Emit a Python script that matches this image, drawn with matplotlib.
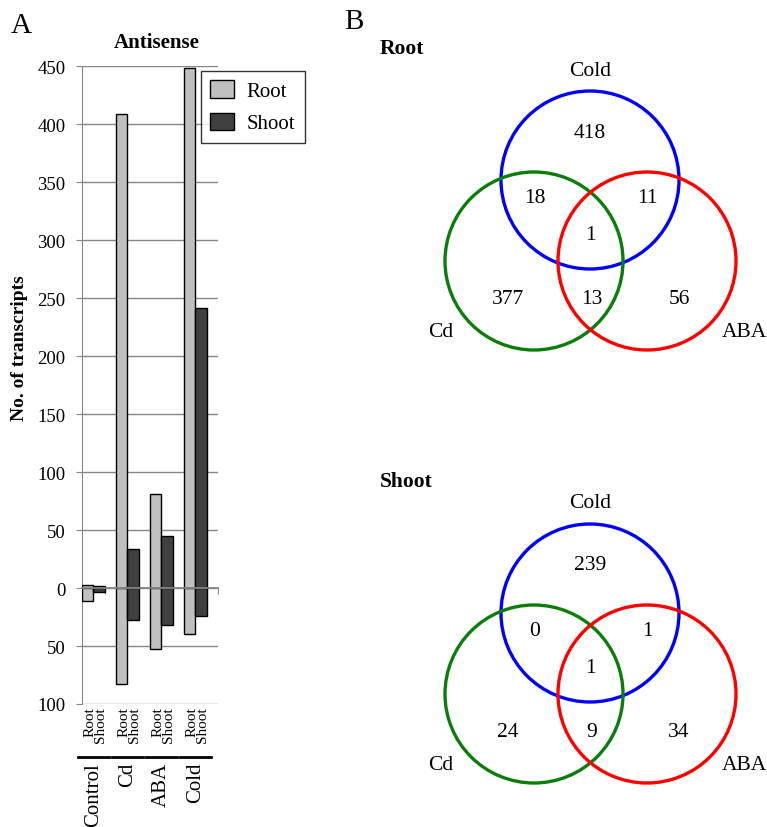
import numpy as np
import matplotlib
matplotlib.use('Agg')
import matplotlib.pyplot as plt
from matplotlib.patches import Circle
from matplotlib.transforms import blended_transform_factory
from matplotlib.ticker import FuncFormatter

plt.rcParams['font.family'] = ['Liberation Serif', 'DejaVu Serif']

# panel A data (antisense transcripts, up = above zero, down = below zero)
groups = ['Control', 'Cd', 'ABA', 'Cold']
tissues = ['Root', 'Shoot']
root_up = [3, 409, 81, 448]
root_down = [11, 83, 53, 40]
shoot_up = [2, 34, 45, 241]
shoot_down = [3.5, 28, 32, 24]
yticks = list(range(-100, 451, 50))

# panel B data (venn counts)
venn_sets = ['Cold', 'Cd', 'ABA']
venn_regions = ['Cold', 'Cold_Cd', 'Cold_ABA', 'all', 'Cd', 'Cd_ABA', 'ABA']
root_counts = [418, 18, 11, 1, 377, 13, 56]
shoot_counts = [239, 0, 1, 1, 24, 9, 34]

W, H = 767, 828
fig = plt.figure(figsize=(W / 100, H / 100), dpi=100)

# ---------------- panel A ----------------
ax = fig.add_axes([82 / W, 1 - 705 / H, (218 - 82) / W, (705 - 67) / H])
grey = '#868686'
root_col = '#c0c0c0'
shoot_col = '#404040'

slots = 3 * len(groups)
xr = np.arange(len(groups)) * 3
xs = xr + 1
ax.bar(xr, root_up, width=1, align='edge', color=root_col, edgecolor='black', lw=1, zorder=3, label='Root')
ax.bar(xr, -np.array(root_down), width=1, align='edge', color=root_col, edgecolor='black', lw=1, zorder=3)
ax.bar(xs, shoot_up, width=1, align='edge', color=shoot_col, edgecolor='black', lw=1, zorder=3, label='Shoot')
ax.bar(xs, -np.array(shoot_down), width=1, align='edge', color=shoot_col, edgecolor='black', lw=1, zorder=3)

ax.set_xlim(0, slots)
ax.set_ylim(-100, 450)
ax.set_yticks(yticks)
ax.yaxis.set_major_formatter(FuncFormatter(lambda v, p: f'{abs(int(v))}'))
ax.yaxis.grid(True, color=grey, lw=1, zorder=0)
ax.tick_params(axis='y', length=4, color=grey, pad=8, labelsize=13.5)
ax.set_xticks(np.arange(slots + 1))
ax.tick_params(axis='x', length=4, color=grey, direction='out', labelbottom=False)
for s in ['top', 'right']:
    ax.spines[s].set_visible(False)
ax.spines['left'].set_color(grey)
ax.spines['bottom'].set_position(('data', 0))
ax.spines['bottom'].set_color(grey)
ax.spines['bottom'].set_linewidth(1.3)
ax.spines['bottom'].set_zorder(4)

fig.text(20 / W, 1 - 348 / H, 'No. of transcripts', rotation=90, ha='center', va='center',
         fontsize=14, fontweight='bold')
ax.set_title('Antisense', fontsize=15, fontweight='bold', pad=14, x=0.55)

# category labels under the axis
bt = blended_transform_factory(ax.transData, fig.transFigure)
for g, name in enumerate(groups):
    ax.text(3 * g + 1.15, 1 - 707 / H, '\n'.join(tissues), transform=bt, rotation=90,
            ha='center', va='top', multialignment='right', fontsize=11, linespacing=0.78)
    ax.plot([3 * g - 0.35, 3 * g + 2.35], [1 - 758 / H] * 2, color='black', lw=2,
            transform=bt, clip_on=False)
    ax.text(3 * g + 1, 1 - 763 / H, name, transform=bt, rotation=90,
            ha='center', va='top', fontsize=15)

fig.legend(loc='upper left', bbox_to_anchor=(201 / W, 1 - 72 / H), borderaxespad=0,
           fontsize=15, frameon=True, fancybox=False, edgecolor='black',
           handlelength=1.15, handleheight=0.9, handletextpad=0.6, labelspacing=0.55,
           borderpad=0.45)
fig.legends[0].get_frame().set_linewidth(1)

# ---------------- panel B ----------------
vx = fig.add_axes([0, 0, 1, 1])
vx.set_xlim(0, W)
vx.set_ylim(H, 0)
vx.axis('off')
vx.patch.set_alpha(0)

circle_centers = {'Cold': (590, 181), 'Cd': (534, 262), 'ABA': (647, 262)}
circle_colors = {'Cold': '#0000ff', 'Cd': '#0b7d0b', 'ABA': '#ff0000'}
label_pos = {'Cold': (590, 71), 'Cd': (441, 333), 'ABA': (744, 333)}
region_pos = {'Cold': (590, 133), 'Cold_Cd': (535, 199), 'Cold_ABA': (647, 199),
              'all': (590, 236), 'Cd': (508, 300), 'Cd_ABA': (592, 300), 'ABA': (679, 300)}


def draw_venn(counts, title, dy):
    for s in venn_sets:
        cx, cy = circle_centers[s]
        vx.add_patch(Circle((cx, cy + dy), 89, fill=False, ec=circle_colors[s], lw=2.4))
        lx, ly = label_pos[s]
        vx.text(lx, ly + dy, s, ha='center', va='center', fontsize=15.5)
    for r, c in zip(venn_regions, counts):
        px, py = region_pos[r]
        vx.text(px, py + dy, str(c), ha='center', va='center', fontsize=15.5)
    vx.text(380, 49 + dy, title, ha='left', va='center', fontsize=15.5, fontweight='bold')


draw_venn(root_counts, 'Root', 0)
draw_venn(shoot_counts, 'Shoot', 433)

fig.text(11 / W, 1 - 26 / H, 'A', fontsize=21, va='center', ha='left')
fig.text(344 / W, 1 - 22 / H, 'B', fontsize=21, va='center', ha='left')

fig.savefig('out.png', dpi=100)
